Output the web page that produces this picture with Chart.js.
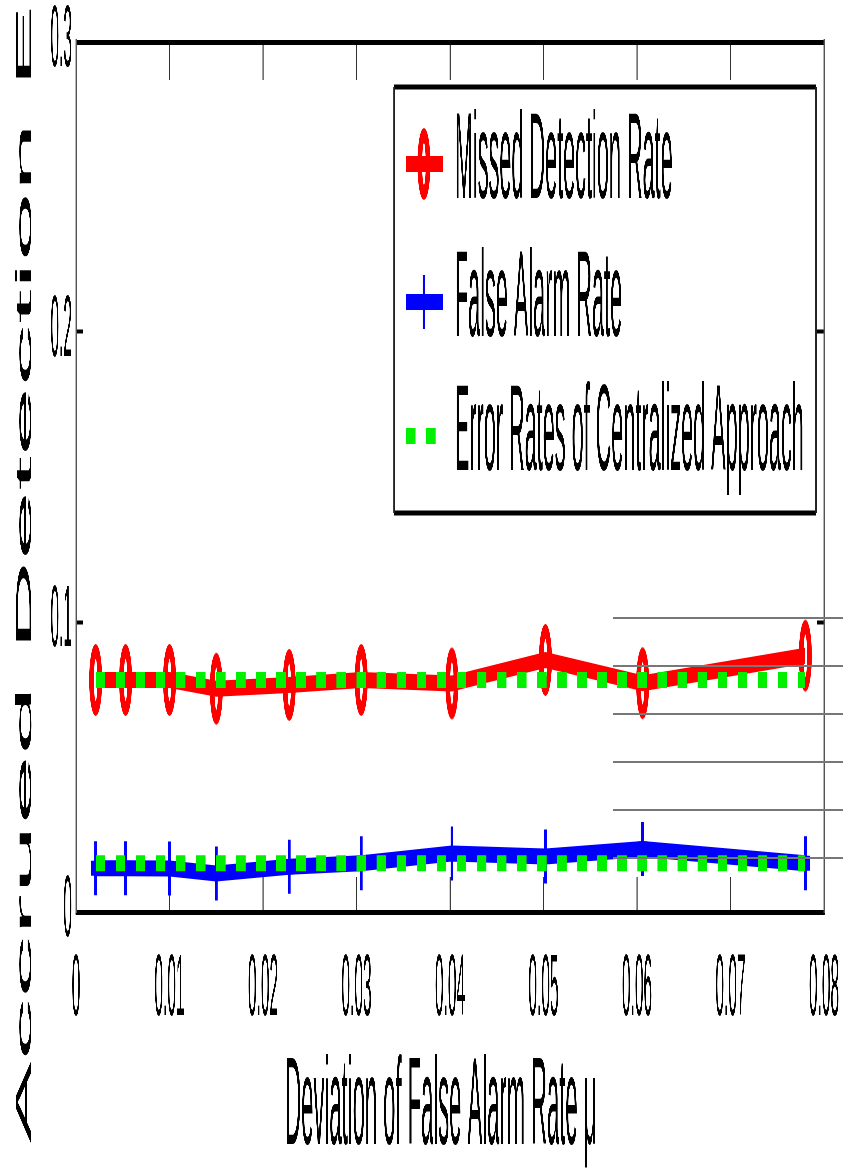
<!DOCTYPE html>
<html><head><meta charset="utf-8">
<script src="https://cdn.jsdelivr.net/npm/chart.js@4.4.1/dist/chart.umd.min.js"></script>
<style>
html,body{margin:0;padding:0;width:843px;height:1174px;overflow:hidden;background:#fff}
#wrap{position:absolute;left:0;top:0;height:1174px;transform-origin:0 0}
</style></head><body>
<div id="wrap"><canvas id="c"></canvas></div>
<script>
// ---- data ----
const xValues        = [0.0021, 0.0053, 0.0100, 0.0150, 0.0228, 0.0305, 0.0402, 0.0502, 0.0606, 0.0780];
const missedDetection = [0.0800, 0.0800, 0.0800, 0.0770, 0.0783, 0.0800, 0.0788, 0.0869, 0.0789, 0.0884];
const falseAlarm      = [0.0151, 0.0151, 0.0150, 0.0133, 0.0156, 0.0168, 0.0202, 0.0191, 0.0217, 0.0168];
const centralMissed   = [0.0800, 0.0800, 0.0800, 0.0800, 0.0800, 0.0800, 0.0800, 0.0800, 0.0800, 0.0800];
const centralFalse    = [0.0168, 0.0168, 0.0168, 0.0168, 0.0168, 0.0168, 0.0168, 0.0168, 0.0168, 0.0168];
const xTickValues = [0, 0.01, 0.02, 0.03, 0.04, 0.05, 0.06, 0.07, 0.08];
const xTickLabels = ['0', '0.01', '0.02', '0.03', '0.04', '0.05', '0.06', '0.07', '0.08'];
const yTickValues = [0, 0.1, 0.2, 0.3];
const yTickLabels = ['0', '0.1', '0.2', '0.3'];
const seriesLabels = ['Missed Detection Rate', 'False Alarm Rate', 'Error Rates of Centralized Approach'];
const xTitle = 'Deviation of False Alarm Rate \u03bc\u00a0\u00a0\u00a0';
const yTitle = 'Accrued Detection Error';

// ---- layout (the figure is horizontally squeezed) ----
const SX = 0.176;
const W = Math.round(843 / SX), H = 1174;
const wrap = document.getElementById('wrap');
wrap.style.width = W + 'px';
wrap.style.transform = 'scaleX(' + SX + ')';
const AREA = {left: Math.round(76 / SX), right: Math.round(824 / SX), top: 42, bottom: 912};

const FONT = '"Liberation Sans", Arial, Helvetica, sans-serif';
Chart.defaults.font.family = FONT;
Chart.defaults.color = '#000';

function makeRing(color) {
  const c = document.createElement('canvas');
  c.width = 76; c.height = 74;
  const g = c.getContext('2d');
  g.fillStyle = color;
  g.beginPath();
  g.ellipse(38, 37, 37, 36, 0, 0, Math.PI * 2);
  g.moveTo(48, 37);
  g.ellipse(38, 37, 10, 21, 0, 0, Math.PI * 2);
  g.fill('evenodd');
  return c;
}
const RED = '#ff0000', BLUE = '#0000ff', GREEN = '#00f000';
const ring = makeRing(RED);

const pts = (ys) => xValues.map((x, i) => ({x: x, y: ys[i]}));

const datasets = [
  {label: seriesLabels[0], data: pts(missedDetection), borderColor: RED, backgroundColor: RED,
   borderWidth: 16, pointStyle: ring, pointRadius: 36, order: 1},
  {label: seriesLabels[1], data: pts(falseAlarm), borderColor: BLUE, backgroundColor: BLUE,
   borderWidth: 16, pointStyle: 'cross', pointRadius: 27, pointBorderWidth: 15, pointBorderColor: BLUE, order: 1},
  {label: seriesLabels[2], data: pts(centralMissed), borderColor: GREEN, borderWidth: 16,
   borderDash: [54, 60], pointRadius: 0, order: 0},
  {label: seriesLabels[2], data: pts(centralFalse), borderColor: GREEN, borderWidth: 16,
   borderDash: [54, 60], pointRadius: 0, order: 0, hideInLegend: true}
];

// legend box, in fractions of the plot area
const LEG = {left: 0.4251, right: 0.9893, top: 0.0517, bottom: 0.5414, rows: [0.1402, 0.2989, 0.4529],
             symStart: 68, symEnd: 278, markX: 170, textX: 346, fontSize: 123};
// stray grey rules visible at the lower right of the picture
const DECOR = {x0: 613, ys: [618, 666, 714, 762, 810, 858], color: '#777', width: 2};

const boxLegend = {
  id: 'boxLegend',
  afterDraw(chart) {
    const ctx = chart.ctx, a = chart.chartArea;
    const w = a.right - a.left, h = a.bottom - a.top;
    // decorative grey rules
    ctx.save();
    ctx.strokeStyle = DECOR.color; ctx.lineWidth = DECOR.width;
    DECOR.ys.forEach(y => { ctx.beginPath(); ctx.moveTo(DECOR.x0 / SX, y); ctx.lineTo(chart.width, y); ctx.stroke(); });
    ctx.restore();

    const L = a.left + LEG.left * w, R = a.left + LEG.right * w;
    const T = a.top + LEG.top * h, B = a.top + LEG.bottom * h;
    ctx.save();
    ctx.fillStyle = '#fff';
    ctx.fillRect(L, T, R - L, B - T);
    ctx.strokeStyle = '#000';
    ctx.lineWidth = 5;
    ctx.beginPath(); ctx.moveTo(L, T); ctx.lineTo(R, T); ctx.moveTo(L, B); ctx.lineTo(R, B); ctx.stroke();
    ctx.strokeStyle = '#222'; ctx.lineWidth = 7;
    ctx.beginPath(); ctx.moveTo(L, T); ctx.lineTo(L, B); ctx.moveTo(R, T); ctx.lineTo(R, B); ctx.stroke();

    const items = chart.data.datasets.filter(d => !d.hideInLegend);
    items.forEach((ds, i) => {
      const y = a.top + LEG.rows[i] * h;
      ctx.save();
      ctx.strokeStyle = ds.borderColor; ctx.lineWidth = ds.borderWidth;
      ctx.lineCap = 'butt';
      ctx.setLineDash(ds.borderDash || []);
      ctx.beginPath(); ctx.moveTo(L + LEG.symStart, y); ctx.lineTo(L + LEG.symEnd, y); ctx.stroke();
      ctx.setLineDash([]);
      const mx = L + LEG.markX;
      if (ds.pointStyle && typeof ds.pointStyle === 'object') {
        ctx.drawImage(ds.pointStyle, mx - ds.pointStyle.width / 2, y - ds.pointStyle.height / 2);
      } else if (ds.pointStyle === 'cross') {
        ctx.strokeStyle = ds.pointBorderColor; ctx.lineWidth = ds.pointBorderWidth;
        const r = ds.pointRadius;
        ctx.beginPath(); ctx.moveTo(mx - r, y); ctx.lineTo(mx + r, y); ctx.moveTo(mx, y - r); ctx.lineTo(mx, y + r); ctx.stroke();
      }
      ctx.restore();
      ctx.fillStyle = '#000';
      ctx.font = LEG.fontSize + 'px ' + FONT;
      ctx.textBaseline = 'middle'; ctx.textAlign = 'left';
      ctx.fillText(ds.label, L + LEG.textX, y);
    });
    ctx.restore();
  }
};

const zeroPad = (s) => { s.paddingTop = 0; s.paddingBottom = 0; s.paddingLeft = 0; s.paddingRight = 0; };
const setTicks = (vals) => (s) => { s.ticks = vals.map(v => ({value: v})); };

new Chart(document.getElementById('c'), {
  type: 'line',
  data: {datasets: datasets},
  plugins: [boxLegend],
  options: {
    responsive: true, maintainAspectRatio: false, animation: false,
    layout: {autoPadding: false, padding: {top: AREA.top, right: W - AREA.right, bottom: 0, left: 0}},
    plugins: {legend: {display: false}, tooltip: {enabled: false}},
    elements: {line: {tension: 0}},
    scales: {
      x: {
        type: 'linear', position: 'bottom', min: 0, max: 0.08,
        afterBuildTicks: setTicks(xTickValues),
        afterFit: (s) => { s.height = H - AREA.bottom; zeroPad(s); },
        ticks: {autoSkip: false, maxRotation: 0, minRotation: 0, padding: 70,
                font: {size: 88, lineHeight: 1}, color: '#000',
                callback: (v, i) => xTickLabels[i]},
        grid: {display: true, drawOnChartArea: false, drawTicks: true, tickLength: -35, tickWidth: 6, tickColor: '#333'},
        border: {display: true, color: '#000', width: 5},
        title: {display: true, text: xTitle, font: {size: 125, lineHeight: 1}, color: '#000', padding: {top: 0, bottom: 2}}
      },
      x2: {
        type: 'linear', position: 'top', min: 0, max: 0.08,
        afterBuildTicks: setTicks(xTickValues),
        afterFit: (s) => { s.height = 0; zeroPad(s); },
        ticks: {display: false},
        grid: {display: true, drawOnChartArea: false, drawTicks: true, tickLength: -38, tickWidth: 6, tickColor: '#333'},
        border: {display: true, color: '#000', width: 5}
      },
      y: {
        type: 'linear', position: 'left', min: 0, max: 0.3,
        afterBuildTicks: setTicks(yTickValues),
        afterFit: (s) => { s.width = AREA.left; zeroPad(s); },
        ticks: {padding: 63, font: {size: 88, lineHeight: 1}, color: '#000',
                callback: (v, i) => yTickLabels[i]},
        grid: {display: true, drawOnChartArea: false, drawTicks: true, tickLength: -40, tickWidth: 4, tickColor: '#000'},
        border: {display: true, color: '#555', width: 7},
        title: {display: true, text: yTitle, font: {size: 125, lineHeight: 1}, color: '#000', padding: {top: 80, bottom: 0}}
      },
      y2: {
        type: 'linear', position: 'right', min: 0, max: 0.3,
        afterBuildTicks: setTicks(yTickValues),
        afterFit: (s) => { s.width = 0; zeroPad(s); },
        ticks: {display: false},
        grid: {display: true, drawOnChartArea: false, drawTicks: true, tickLength: -40, tickWidth: 4, tickColor: '#000'},
        border: {display: true, color: '#555', width: 7}
      }
    }
  }
});
</script>
</body></html>
